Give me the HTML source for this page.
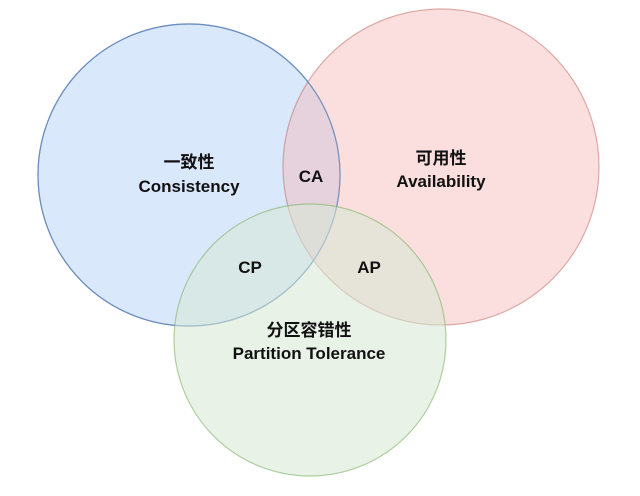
<!DOCTYPE html>
<html><head><meta charset="utf-8"><style>
html,body{margin:0;padding:0;background:#fff;}
svg{display:block;}
text{font-family:"Liberation Sans","Noto Sans CJK SC",sans-serif;font-weight:bold;font-size:17px;fill:#111;text-anchor:middle;}
</style></head><body>
<svg width="640" height="496" viewBox="0 0 640 496">
<circle cx="189" cy="175" r="151" fill="#dae8fc" stroke="#6c8ebf" stroke-width="1.2"/>
<circle cx="441" cy="167" r="158" fill="#f4b8b6" fill-opacity="0.45" stroke="#b85450" stroke-opacity="0.45" stroke-width="1.2"/>
<circle cx="189" cy="175" r="151" fill="none" stroke="#6c8ebf" stroke-width="1.2" stroke-opacity="0.8"/>
<circle cx="310" cy="340" r="136" fill="#d5e8d4" fill-opacity="0.55" stroke="#82b366" stroke-opacity="0.6" stroke-width="1.2"/>
<text x="189" y="168">一致性</text>
<text x="189" y="192">Consistency</text>
<text x="311" y="182">CA</text>
<text x="441" y="164">可用性</text>
<text x="441" y="187">Availability</text>
<text x="250" y="273">CP</text>
<text x="369" y="273">AP</text>
<text x="309" y="336">分区容错性</text>
<text x="309" y="359">Partition Tolerance</text>
</svg>
</body></html>
